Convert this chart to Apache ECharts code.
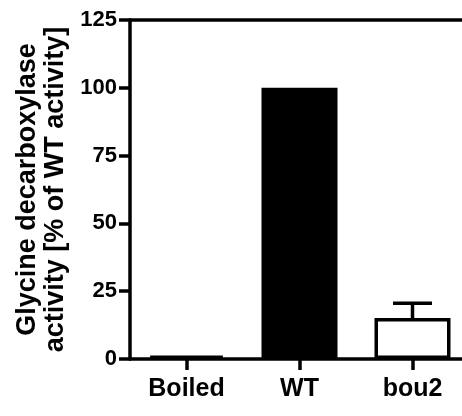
<!DOCTYPE html>
<html><head><meta charset="utf-8">
<script src="https://cdn.jsdelivr.net/npm/echarts@6/dist/echarts.min.js"></script>
<style>html,body{margin:0;padding:0;background:#fff}#c{width:462px;height:416px}</style>
</head><body><div id="c"></div>
<script>
const categories = ['Boiled', 'WT', 'bou2'];
const meanValues = [1.2, 100, 15.1];
const errorValues = [0, 0, 5.5];
const yTicks = [0, 25, 50, 75, 100, 125];
const yTitle = 'Glycine decarboxylase\nactivity [% of WT activity]';

const fills = ['#ffffff', '#000000', '#ffffff'];
const FONT = '"Liberation Sans", Arial, sans-serif';

const chart = echarts.init(document.getElementById('c'), null, {renderer: 'canvas'});
chart.setOption({
  animation: false,
  backgroundColor: '#fff',
  grid: {left: 130, width: 339, top: 20, bottom: 57, containLabel: false, outerBoundsMode: 'none'},
  xAxis: [{
    type: 'category', data: categories, position: 'bottom',
    axisLine: {show: true, lineStyle: {color: '#000', width: 3.5}},
    axisTick: {show: true, alignWithLabel: true, length: 11, lineStyle: {color: '#000', width: 3.5}},
    axisLabel: {color: '#000', fontFamily: FONT, fontWeight: 'bold', fontSize: 25, margin: 18},
    splitLine: {show: false}
  }, {
    type: 'category', data: categories, position: 'top',
    axisLine: {show: true, onZero: false, lineStyle: {color: '#000', width: 3.5}},
    axisTick: {show: false}, axisLabel: {show: false}, splitLine: {show: false}
  }],
  yAxis: {
    type: 'value', min: yTicks[0], max: yTicks[yTicks.length - 1], interval: 25,
    axisLine: {show: true, lineStyle: {color: '#000', width: 3.5}},
    axisTick: {show: true, length: 11, lineStyle: {color: '#000', width: 3.5}},
    axisLabel: {color: '#000', fontFamily: FONT, fontWeight: 'bold', fontSize: 22, margin: 13},
    splitLine: {show: false},
    name: yTitle, nameLocation: 'middle', nameRotate: 90, nameGap: 57,
    nameTextStyle: {color: '#000', fontFamily: FONT, fontWeight: 'bold', fontSize: 27, lineHeight: 28, align: 'center'}
  },
  series: [{
    type: 'bar', barWidth: 76,
    data: meanValues.map((v, i) => ({value: v, itemStyle: {color: fills[i], borderColor: '#000', borderWidth: 3.5}})),
    z: 2
  }, {
    type: 'custom',
    data: meanValues.map((v, i) => [i, v, errorValues[i]]),
    renderItem: function (params, api) {
      const m = api.value(1), e = api.value(2);
      if (!e) return null;
      const base = api.coord([api.value(0), m]);
      const top = api.coord([api.value(0), m + e]);
      const hw = 19.5;
      const st = {stroke: '#000', lineWidth: 3.5};
      return {type: 'group', children: [
        {type: 'line', shape: {x1: base[0], y1: base[1], x2: top[0], y2: top[1]}, style: st},
        {type: 'line', shape: {x1: top[0] - hw, y1: top[1], x2: top[0] + hw, y2: top[1]}, style: st}
      ]};
    },
    z: 3
  }]
});
</script></body></html>
